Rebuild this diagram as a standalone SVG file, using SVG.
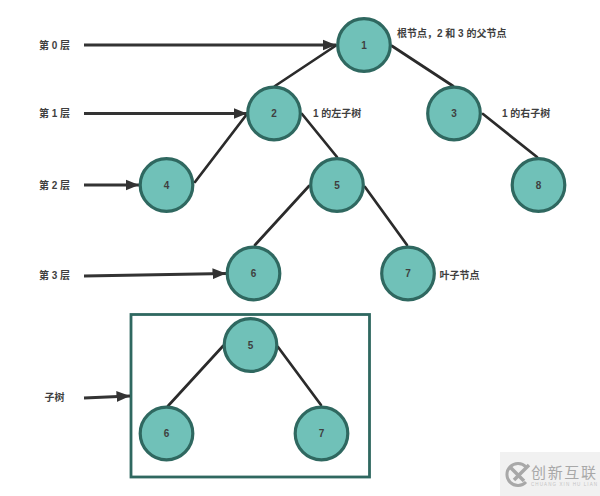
<svg xmlns="http://www.w3.org/2000/svg" width="600" height="496" viewBox="0 0 600 496">
  <style>
    text { font-family: "Liberation Sans", "Noto Sans CJK SC", sans-serif; font-size: 10px; font-weight: 700; fill: #3f3f3f; }
    .center { text-anchor: middle; dominant-baseline: central; }
    .node circle { fill: #70c1b8; stroke: #2f6860; stroke-width: 3.2; }
    .edge { fill: none; stroke: #2b2b2b; stroke-width: 2.7; stroke-linecap: round; }
    .pointer { fill: none; stroke: #333; stroke-width: 2.8; marker-end: url(#head); }
    .frame { fill: none; stroke: #2f6860; stroke-width: 2.8; }
    .brand { font-family: "Noto Sans CJK SC", sans-serif; font-size: 15px; font-weight: 400; fill: #a8a8a8; }
    .brand-small { font-family: "Liberation Sans", sans-serif; font-size: 4.5px; font-weight: 400; fill: #c4c4c4; }
  </style>
  <defs>
    <marker id="head" markerUnits="userSpaceOnUse" markerWidth="15" markerHeight="12" refX="13.5" refY="6" orient="auto">
      <path d="M0,0.5 L13.5,6 L0,11.5 Z" fill="#333"/>
    </marker>
  </defs>
  <rect width="600" height="496" fill="#fff"/>

  <rect id="subtree-frame" class="frame" x="131" y="314.5" width="238.5" height="162.5"/>

  <g id="connectors">
    <line class="edge" x1="336" y1="45.5" x2="275" y2="86"/>
    <line class="edge" x1="392" y1="46" x2="453" y2="86"/>
    <line class="edge" x1="247" y1="114" x2="195" y2="182"/>
    <line class="edge" x1="302" y1="114" x2="337" y2="157"/>
    <line class="edge" x1="483" y1="114" x2="537" y2="157"/>
    <line class="edge" x1="309" y1="186" x2="255" y2="245"/>
    <line class="edge" x1="365" y1="187" x2="407" y2="245"/>
    <line class="edge" x1="223" y1="346" x2="168" y2="406"/>
    <line class="edge" x1="278" y1="347" x2="321" y2="405"/>
    <line class="pointer" x1="84" y1="45" x2="336" y2="45"/>
    <line class="pointer" x1="84" y1="113.5" x2="247" y2="113.5"/>
    <line class="pointer" x1="84" y1="185" x2="139" y2="185"/>
    <line class="pointer" x1="84" y1="276" x2="226" y2="273.5"/>
    <line class="pointer" x1="84" y1="398" x2="130" y2="396"/>
  </g>

  <g id="node-1" class="node"><circle cx="364" cy="45" r="26.3"/><text class="center" x="364" y="45">1</text></g>
  <g id="node-2" class="node"><circle cx="274" cy="113.5" r="26.3"/><text class="center" x="274" y="113.5">2</text></g>
  <g id="node-3" class="node"><circle cx="454" cy="113.5" r="26.3"/><text class="center" x="454" y="113.5">3</text></g>
  <g id="node-4" class="node"><circle cx="166.5" cy="185" r="26.3"/><text class="center" x="166.5" y="185">4</text></g>
  <g id="node-5" class="node"><circle cx="337" cy="185" r="26.3"/><text class="center" x="337" y="185">5</text></g>
  <g id="node-8" class="node"><circle cx="538.5" cy="185" r="26.3"/><text class="center" x="538.5" y="185">8</text></g>
  <g id="node-6" class="node"><circle cx="253.5" cy="273.5" r="26.3"/><text class="center" x="253.5" y="273.5">6</text></g>
  <g id="node-7" class="node"><circle cx="408" cy="273.5" r="26.3"/><text class="center" x="408" y="273.5">7</text></g>
  <g id="subtree-node-5" class="node"><circle cx="250.5" cy="345" r="26.3"/><text class="center" x="250.5" y="345">5</text></g>
  <g id="subtree-node-6" class="node"><circle cx="166.5" cy="433.5" r="26.3"/><text class="center" x="166.5" y="433.5">6</text></g>
  <g id="subtree-node-7" class="node"><circle cx="321.5" cy="433.5" r="26.3"/><text class="center" x="321.5" y="433.5">7</text></g>

  <g id="labels">
    <text class="center" x="54.5" y="45">第 0 层</text>
    <text class="center" x="54.5" y="113.5">第 1 层</text>
    <text class="center" x="54.5" y="185">第 2 层</text>
    <text class="center" x="54.5" y="275.5">第 3 层</text>
    <text class="center" x="54.5" y="397">子树</text>
    <text x="397" y="37">根节点，2 和 3 的父节点</text>
    <text x="313" y="117">1 的左子树</text>
    <text x="502" y="117">1 的右子树</text>
    <text x="439.5" y="279">叶子节点</text>
  </g>

  <g id="brand-mark">
    <rect x="500" y="452" width="100" height="44" fill="#f1f1f1"/>
    <path d="M526,467 A11,11 0 1 0 526,482" fill="none" stroke="#a8a8a8" stroke-width="3"/>
    <path d="M510,467 L524,481 M529,465 L514,480" fill="none" stroke="#a8a8a8" stroke-width="3.5"/>
    <text class="brand" x="531" y="477.5" textLength="65">创新互联</text>
    <text class="brand-small" x="531" y="486" textLength="66">CHUANG XIN HU LIAN</text>
  </g>
</svg>
